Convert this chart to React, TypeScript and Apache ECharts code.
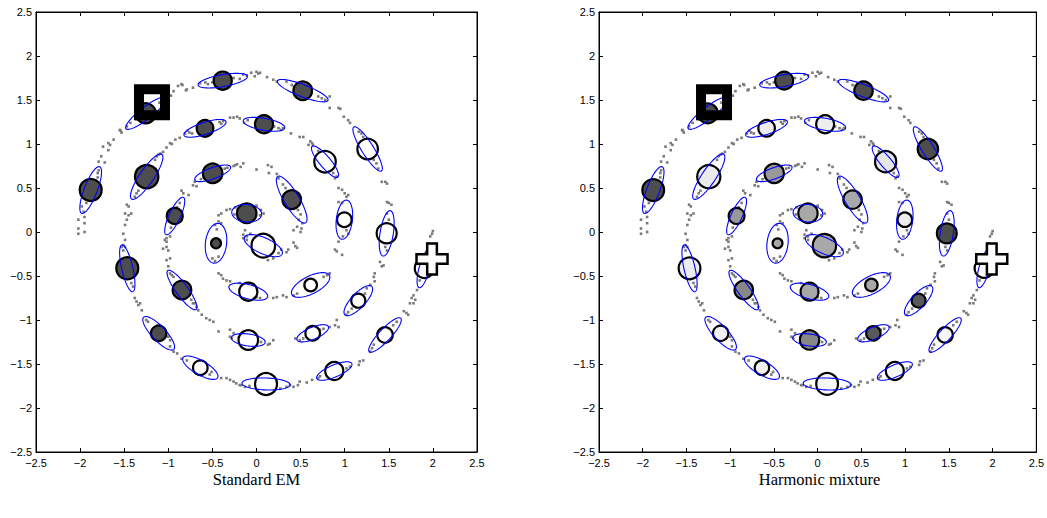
import React, { useEffect, useRef } from "react";
import * as echarts from "echarts";

// ---- data ----
const panelTitles = ["Standard EM", "Harmonic mixture"];

// spiral arm starting at the right end (x≈2) and winding inwards
const armA: number[][] = [
  [1.99,-0.02],[2.0,0.01],[1.97,-0.05],[1.95,-0.13],[1.97,-0.17],[1.96,-0.24],
  [1.92,-0.36],[1.9,-0.45],[1.87,-0.51],[1.85,-0.55],[1.82,-0.66],
  [1.78,-0.72],[1.76,-0.75],[1.8,-0.77],[1.74,-0.81],[1.78,-0.81],
  [1.67,-0.9],[1.7,-0.92],[1.72,-0.94],
  [1.59,-1.02],[1.55,-1.06],[1.5,-1.1],[1.42,-1.2],[1.33,-1.28],[1.31,-1.32],[1.29,-1.36],
  [1.21,-1.46],[1.17,-1.47],[1.16,-1.51],
  [1.06,-1.53],[1.02,-1.55],[0.95,-1.57],[0.8,-1.62],[0.72,-1.64],[0.7,-1.66],
  [0.63,-1.68],[0.57,-1.71],[0.49,-1.7],[0.47,-1.74],[0.42,-1.76],[0.38,-1.74],
  [0.34,-1.76],[0.27,-1.78],[0.2,-1.74],[0.0,-1.73],[-0.08,-1.75],[-0.13,-1.76],[-0.17,-1.74],
  [-0.19,-1.74],[-0.23,-1.72],[-0.26,-1.7],[-0.3,-1.68],[-0.34,-1.66],[-0.4,-1.66],
  [-0.51,-1.59],[-0.53,-1.62],[-0.6,-1.56],[-0.7,-1.5],[-0.79,-1.46],[-0.85,-1.44],
  [-0.9,-1.38],[-0.94,-1.36],[-0.98,-1.3],
  [-0.98,-1.23],[-1.0,-1.19],[-1.04,-1.15],[-1.12,-1.1],[-1.23,-1.02],[-1.25,-1.0],
  [-1.3,-0.89],[-1.34,-0.83],[-1.36,-0.79],[-1.32,-0.81],[-1.38,-0.75],
  [-1.4,-0.62],[-1.42,-0.58],[-1.47,-0.47],[-1.48,-0.33],[-1.51,-0.21],[-1.49,-0.17],[-1.51,-0.15],
  [-1.53,-0.17],[-1.49,-0.09],[-1.51,-0.02],[-1.49,0.08],[-1.47,0.14],[-1.45,0.19],[-1.42,0.21],[-1.49,0.21],[-1.45,0.29],[-1.47,0.31],
  [-1.38,0.4],[-1.36,0.44],[-1.34,0.47],[-1.28,0.58],[-1.2,0.72],[-1.15,0.82],[-1.13,0.86],[-1.11,0.88],
  [-1.09,0.89],[-1.06,0.91],[-1.02,0.96],[-0.98,1.01],[-0.96,1.0],[-0.92,1.05],[-0.87,1.07],[-0.81,1.12],[-0.78,1.15],
  [-0.76,1.13],[-0.73,1.12],[-0.66,1.15],[-0.5,1.21],[-0.42,1.25],[-0.4,1.23],[-0.38,1.26],
  [-0.3,1.3],[-0.26,1.3],[-0.22,1.31],[-0.19,1.29],
  [-0.14,1.24],[-0.1,1.27],[0.05,1.23],[0.2,1.2],[0.25,1.18],[0.28,1.16],[0.3,1.18],
  [0.39,1.12],[0.49,1.08],[0.53,1.08],[0.61,1.03],[0.63,1.01],[0.64,0.99],[0.59,0.99],
  [0.7,0.92],[0.85,0.72],[0.87,0.67],[0.91,0.63],[0.89,0.61],
  [0.93,0.5],[0.97,0.48],[1.0,0.44],[1.02,0.4],[1.04,0.42],
  [0.93,0.34],[0.97,0.33],[1.0,0.2],[1.02,0.02],[1.04,-0.02],[0.98,-0.05],[0.93,-0.11],
  [0.91,-0.22],[0.97,-0.26],[0.89,-0.2],
  [0.83,-0.47],[0.8,-0.49],[0.76,-0.51],[0.6,-0.6],[0.46,-0.7],[0.42,-0.72],[0.34,-0.74],[0.3,-0.72],
  [0.23,-0.74],[0.19,-0.75],
  [0.04,-0.75],[0.0,-0.74],[-0.07,-0.62],[-0.19,-0.58],[-0.3,-0.56],[-0.34,-0.55],[-0.38,-0.53],[-0.4,-0.49],[-0.43,-0.47],
  [-0.5,-0.3],[-0.47,-0.33],[-0.43,-0.28],[-0.46,-0.1],[-0.45,0.03],[-0.47,0.08],[-0.43,0.12],[-0.4,0.1],
  [-0.43,0.19],[-0.4,0.21],[-0.34,0.25],[-0.3,0.26],[-0.24,0.28],[-0.15,0.31],[-0.11,0.31],
  [-0.25,0.2],[0.0,0.3],[0.05,0.25],[0.08,0.21],[0.04,0.19],
];

// spiral arm starting at the left end (x≈-2) and winding inwards
const armB: number[][] = [
  [-2.02,-0.02],[-1.95,0.0],[-2.02,0.04],[-1.95,0.1],[-2.02,0.14],[-1.95,0.17],[-1.96,0.23],[-1.98,0.29],[-1.93,0.33],
  [-1.9,0.38],[-1.86,0.44],[-1.84,0.52],[-1.82,0.58],[-1.8,0.62],[-1.8,0.67],[-1.79,0.7],
  [-1.79,0.8],[-1.72,0.79],[-1.76,0.86],[-1.68,0.93],[-1.66,0.99],[-1.62,1.05],[-1.74,0.97],[-1.68,1.01],
  [-1.55,1.16],[-1.53,1.13],[-1.54,1.15],[-1.47,1.2],[-1.43,1.24],[-1.36,1.28],[-1.3,1.32],[-1.2,1.4],[-1.1,1.47],
  [-1.02,1.53],[-0.97,1.55],[-0.94,1.6],[-0.89,1.66],[-0.85,1.68],[-0.8,1.61],[-0.84,1.67],[-0.72,1.64],[-0.79,1.62],
  [-0.64,1.69],[-0.58,1.7],[-0.55,1.68],[-0.5,1.7],[-0.26,1.75],[-0.19,1.74],
  [-0.11,1.78],[-0.06,1.81],[-0.02,1.77],[0.02,1.8],[0.04,1.81],[-0.15,1.79],[0.0,1.82],
  [0.12,1.76],[0.19,1.73],[0.23,1.71],
  [0.34,1.71],[0.4,1.67],[0.46,1.65],[0.7,1.54],[0.74,1.52],[0.78,1.5],[0.83,1.54],
  [0.83,1.41],[0.93,1.41],[0.95,1.4],
  [0.99,1.31],[1.04,1.27],[1.06,1.24],
  [1.16,1.14],[1.19,1.12],[1.21,1.08],[1.25,1.05],[1.33,0.82],[1.36,0.78],[1.38,0.72],
  [1.42,0.57],[1.46,0.57],[1.48,0.55],
  [1.48,0.34],[1.5,0.33],[1.53,0.31],
  [1.48,0.21],[1.5,0.14],[1.44,-0.09],[1.46,-0.17],[1.48,-0.21],
  [1.4,-0.34],[1.44,-0.38],[1.42,-0.39],
  [1.34,-0.47],[1.33,-0.51],[1.34,-0.56],
  [1.29,-0.6],[1.25,-0.64],[1.23,-0.7],[1.08,-0.87],[1.04,-0.91],[1.02,-0.94],
  [0.91,-1.0],[0.89,-1.06],[0.93,-1.08],[0.83,-1.08],
  [0.76,-1.1],[0.72,-1.11],[0.53,-1.21],[0.49,-1.23],[0.44,-1.21],
  [0.19,-1.23],[0.15,-1.27],[0.13,-1.28],
  [0.05,-1.25],[-0.2,-1.2],
  [-0.3,-1.11],[-0.26,-1.15],[-0.28,-1.21],[-0.3,-1.19],
  [-0.43,-1.13],[-0.49,-1.02],[-0.53,-1.0],[-0.57,-0.98],[-0.62,-0.94],[-0.66,-0.89],[-0.68,-0.85],[-0.7,-0.81],
  [-0.72,-0.81],[-0.74,-0.77],[-0.96,-0.49],[-0.94,-0.51],[-0.98,-0.47],
  [-1.0,-0.39],[-1.02,-0.32],[-0.98,-0.3],[-1.0,-0.21],[-1.02,-0.17],
  [-1.04,-0.09],[-1.02,-0.07],[-1.06,-0.19],[-0.98,-0.05],[-1.02,-0.11],
  [-0.97,0.05],[-0.96,0.1],[-0.9,0.28],[-0.87,0.33],[-0.83,0.44],[-0.77,0.42],[-0.85,0.47],
  [-0.7,0.57],[-0.68,0.52],[-0.72,0.53],
  [-0.63,0.6],[-0.6,0.62],[-0.36,0.72],[-0.33,0.73],
  [-0.26,0.75],[-0.24,0.76],[-0.22,0.77],[-0.15,0.78],[-0.18,0.74],[0.0,0.71],[0.13,0.76],[0.17,0.74],[0.14,0.67],[0.23,0.66],[0.25,0.61],
  [0.3,0.54],[0.33,0.5],[0.47,0.25],[0.5,0.2],[0.48,0.14],[0.52,0.1],
  [0.42,0.02],[0.46,0.06],[0.51,0.04],[0.5,0.0],[0.42,-0.12],[0.44,-0.16],[0.46,-0.18],[0.36,-0.2],[0.34,-0.23],
  [0.28,-0.2],[0.25,-0.24],[0.19,-0.3],[0.13,-0.32],[0.08,-0.28],[0.04,-0.2],
  [-0.13,0.02],[-0.15,-0.03],[-0.11,-0.05],[-0.07,-0.02],[-0.15,-0.07],[-0.11,-0.09],
];

// mixture components (centres, circle radius, ellipse semi-axes and angle in degrees)
const compX = [-0.383,-1.256,-0.584,-1.245,-1.88,-0.497,-0.927,-0.111,-0.459,0.077,
  0.524,0.085,1.26,0.777,0.399,0.996,1.476,1.903,-1.465,-0.845,
  -1.109,-0.637,-0.093,-0.093,0.108,0.614,0.637,1.154,1.457,0.882];
const compY = [1.72,1.349,1.178,0.629,0.477,0.667,0.182,0.213,-0.128,-0.155,
  1.606,1.224,0.943,0.799,0.368,0.14,-0.015,-0.413,-0.413,-0.659,
  -1.151,-1.542,-0.678,-1.227,-1.727,-0.602,-1.151,-0.78,-1.17,-1.58];
const compRadius = [0.114,0.125,0.106,0.144,0.136,0.122,0.102,0.122,0.068,0.145,
  0.117,0.114,0.128,0.133,0.117,0.094,0.125,0.12,0.136,0.117,
  0.099,0.094,0.114,0.122,0.136,0.083,0.094,0.091,0.099,0.114];
const ellMajor = [0.284,0.284,0.25,0.307,0.284,0.216,0.233,0.17,0.227,0.234,
  0.307,0.239,0.295,0.227,0.307,0.224,0.261,0.227,0.273,0.273,
  0.25,0.227,0.227,0.193,0.273,0.239,0.193,0.222,0.261,0.216];
const ellMinor = [0.068,0.068,0.068,0.08,0.074,0.063,0.063,0.1,0.12,0.09,
  0.068,0.068,0.068,0.063,0.085,0.091,0.075,0.06,0.063,0.068,
  0.08,0.08,0.08,0.068,0.068,0.1,0.068,0.08,0.068,0.068];
const ellAngle = [10,38,18,56,69,20,65,-5,83,-24,
  -21,-10,-58,-50,-59,83,81,75,-77,-54,
  -47,-30,-15,-8,-2,27,23,47,47,23];
// grey level of each component (0 = black, 1 = white)
const greyEM = [0.3,0.3,0.3,0.3,0.3,0.3,0.3,0.3,0.3,1,
  0.3,0.3,1,1,0.3,1,1,1,0.3,0.3,
  0.3,1,1,1,1,1,1,1,1,1];
const greyHarmonic = [0.3,0.3,0.93,0.92,0.3,0.6,0.6,0.66,0.66,0.66,
  0.3,0.93,0.3,0.9,0.66,0.93,0.3,1,0.93,0.53,
  0.94,0.94,0.66,0.53,0.97,0.66,0.35,0.35,0.97,0.97];
const squareMarker = [-1.185, 1.475];
const crossMarker = [1.99, -0.307];

const greyColor = (v: number) => {
  const c = Math.round(v * 255);
  return `rgb(${c},${c},${c})`;
};

const fmt = (v: number) => String(v).replace("-", "\u2212");

export default function App() {
  const ref = useRef<HTMLDivElement>(null);
  useEffect(() => {
    if (!ref.current) return;
    const chart = echarts.init(ref.current, null, { renderer: "svg" });
    const panels = [
      { left: 36, grey: greyEM, title: panelTitles[0] },
      { left: 599, grey: greyHarmonic, title: panelTitles[1] },
    ];
    const gridW = 441;
    const gridH = 440;
    const axisFont = '"Liberation Sans", Arial, Helvetica, sans-serif';
    const baseAxis = {
      type: "value",
      min: -2.5,
      max: 2.5,
      interval: 0.5,
      splitLine: { show: false },
      axisLine: { show: true, onZero: false, lineStyle: { color: "#000", width: 1 } },
      axisTick: { show: true, inside: true, length: 4, lineStyle: { color: "#000" } },
    };
    const label = {
      show: true,
      color: "#000",
      fontSize: 11,
      fontFamily: axisFont,
      margin: 5,
      showMinLabel: true,
      showMaxLabel: true,
      hideOverlap: false,
      formatter: fmt,
    };
    const grid: any[] = [];
    const xAxis: any[] = [];
    const yAxis: any[] = [];
    const series: any[] = [];
    const graphic: any[] = [];
    const dots = armA.concat(armB);
    panels.forEach((p, i) => {
      grid.push({ left: p.left, top: 12, width: gridW, height: gridH, show: true, borderColor: "#000", borderWidth: 1, backgroundColor: "#fff" });
      xAxis.push({ ...baseAxis, gridIndex: i, position: "bottom", axisLabel: label });
      xAxis.push({ ...baseAxis, gridIndex: i, position: "top", axisLabel: { show: false } });
      yAxis.push({ ...baseAxis, gridIndex: i, position: "left", axisLabel: { ...label, margin: 4 } });
      yAxis.push({ ...baseAxis, gridIndex: i, position: "right", axisLabel: { show: false } });
      const xi = 2 * i;
      const yi = 2 * i;
      series.push({
        type: "scatter",
        xAxisIndex: xi,
        yAxisIndex: yi,
        data: dots,
        symbol: "rect",
        symbolSize: 2.6,
        itemStyle: { color: "#7a7a7a", opacity: 1 },
        silent: true,
        z: 1,
      });
      series.push({
        type: "custom",
        xAxisIndex: xi,
        yAxisIndex: yi,
        clip: false,
        z: 2,
        data: compX.map((x, k) => [x, compY[k], compRadius[k], p.grey[k]]),
        renderItem: (params: any, api: any) => {
          const c = api.coord([api.value(0), api.value(1)]);
          const r = api.size([api.value(2), api.value(2)])[0];
          return {
            type: "circle",
            shape: { cx: c[0], cy: c[1], r: Math.max(r - 1, 1) },
            style: { fill: greyColor(api.value(3)), stroke: "#000", lineWidth: 2.2 },
          };
        },
      });
      series.push({
        type: "custom",
        xAxisIndex: xi,
        yAxisIndex: yi,
        clip: false,
        z: 3,
        data: compX.map((x, k) => [x, compY[k], ellMajor[k], ellMinor[k], ellAngle[k]]),
        renderItem: (params: any, api: any) => {
          const cx = api.value(0);
          const cy = api.value(1);
          const a = api.value(2);
          const b = api.value(3);
          const th = (api.value(4) * Math.PI) / 180;
          const pts: number[][] = [];
          const n = 90;
          for (let k = 0; k < n; k++) {
            const t = (k / n) * Math.PI * 2;
            const ex = a * Math.cos(t);
            const ey = b * Math.sin(t);
            pts.push(api.coord([cx + ex * Math.cos(th) - ey * Math.sin(th), cy + ex * Math.sin(th) + ey * Math.cos(th)]));
          }
          return {
            type: "polygon",
            shape: { points: pts },
            style: { fill: "none", stroke: "#0000ff", lineWidth: 1.1 },
          };
        },
      });
      series.push({
        type: "scatter",
        xAxisIndex: xi,
        yAxisIndex: yi,
        data: [squareMarker],
        symbol: "rect",
        symbolSize: 26,
        itemStyle: { color: "rgba(0,0,0,0)", borderColor: "#000", borderWidth: 10, opacity: 1 },
        silent: true,
        z: 4,
      });
      series.push({
        type: "scatter",
        xAxisIndex: xi,
        yAxisIndex: yi,
        data: [crossMarker],
        symbol: "path://M11,0L21,0L21,11L32,11L32,21L21,21L21,32L11,32L11,21L0,21L0,11L11,11Z",
        symbolSize: 31,
        itemStyle: { color: "#fff", borderColor: "#000", borderWidth: 2.5, opacity: 1 },
        silent: true,
        z: 4,
      });
      graphic.push({
        type: "text",
        x: p.left + gridW / 2,
        y: 479,
        style: {
          text: p.title,
          font: '16.5px "Liberation Serif", "Times New Roman", Times, serif',
          fill: "#000",
          textAlign: "center",
          textVerticalAlign: "middle",
          verticalAlign: "middle",
        },
      });
    });
    chart.setOption({
      animation: false,
      backgroundColor: "#fff",
      grid,
      xAxis,
      yAxis,
      series,
      graphic,
    });
    return () => chart.dispose();
  }, []);
  return (
    <div
      ref={ref}
      style={{ position: "fixed", left: 0, top: 0, width: 1047, height: 518, background: "#fff" }}
    />
  );
}
